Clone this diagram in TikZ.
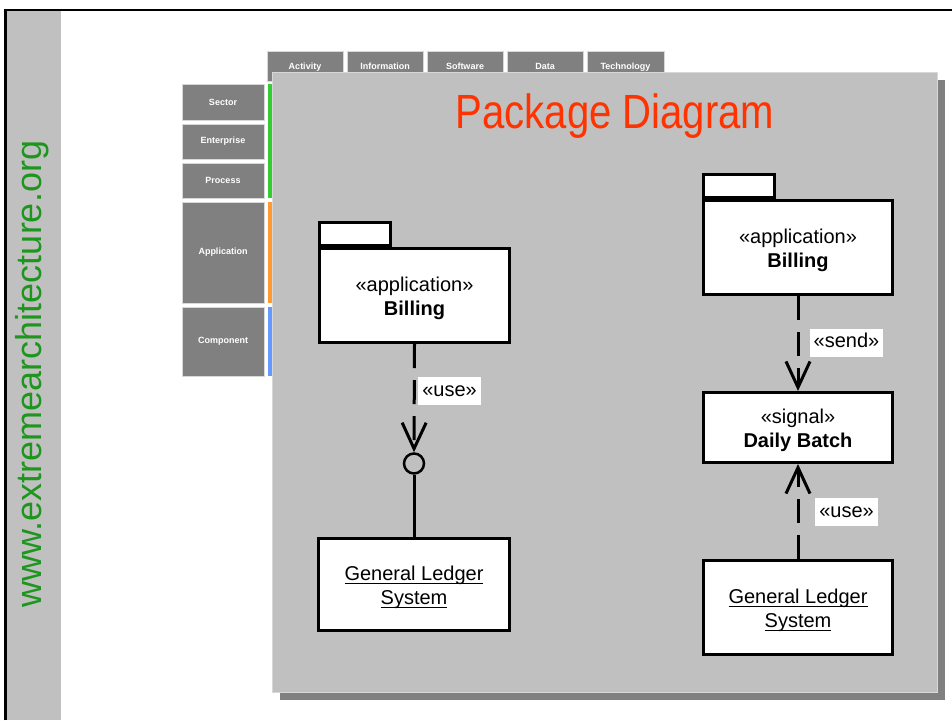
\documentclass[tikz,border=0pt]{standalone}
\usepackage{fontspec}
\setmainfont{Liberation Sans}
\usepackage{graphicx}
\usetikzlibrary{arrows.meta}
\definecolor{panelgray}{HTML}{C0C0C0}
\definecolor{tabgray}{HTML}{808080}
\definecolor{tabedge}{HTML}{D8D8D8}
\definecolor{barGreen}{HTML}{33CC33}
\definecolor{barOrange}{HTML}{FF9933}
\definecolor{barBlue}{HTML}{6699FF}
\definecolor{titleRed}{HTML}{FF3300}
\definecolor{urlGreen}{HTML}{1E961E}
\newsavebox\ulbox
\newcommand{\ulx}[1]{\sbox\ulbox{#1}\rlap{\rule[-3pt]{\wd\ulbox}{1.4pt}}\usebox\ulbox}
\newcommand{\upstrut}{\rule{0pt}{21pt}}
\tikzset{
  tabbox/.style={rectangle, fill=tabgray, draw=tabedge, line width=0.6pt, inner sep=0pt,
    text=white, font=\fontsize{9}{10}\selectfont\bfseries},
  tablabel/.style={anchor=base, text=white, font=\fontsize{9}{10}\selectfont\bfseries, inner sep=0pt},
  pkgbox/.style={rectangle, draw=black, line width=3pt, fill=white, align=center,
    inner sep=0pt, font=\fontsize{20}{24}\selectfont},
  pkgtab/.style={rectangle, draw=black, line width=3pt, fill=white, inner sep=0pt,
    minimum width=71pt, minimum height=23pt, anchor=south west},
  deplabel/.style={fill=white, inner xsep=4pt, inner ysep=0pt, text height=15pt, text depth=5pt,
    minimum height=28pt, font=\fontsize{20}{24}\selectfont},
  dep/.style={line width=3pt, dash pattern=on 24pt off 12pt,
    -{Straight Barb[length=26pt,width=24pt]}},
  solidcon/.style={line width=3pt}
}
\begin{document}
\begin{tikzpicture}[x=1pt,y=-1pt]
\useasboundingbox (0,0) rectangle (952,720);
\fill[white] (0,0) rectangle (952,720);
% frame and left strip
\fill[panelgray] (6,10) rectangle (61,720);
\draw[line width=2.2pt] (5.5,720) -- (5.5,10) -- (952,10);
\node[rotate=90, anchor=base, text=urlGreen, font=\fontsize{36}{40}\selectfont] (url) at (41,374) {www.extremearchitecture.org};
% top tabs
\node[tabbox, minimum width=76pt, minimum height=30pt, anchor=north west] (tAct) at (267,51) {};
\node[tabbox, minimum width=76pt, minimum height=30pt, anchor=north west] (tInf) at (347,51) {};
\node[tabbox, minimum width=76pt, minimum height=30pt, anchor=north west] (tSof) at (427,51) {};
\node[tabbox, minimum width=76pt, minimum height=30pt, anchor=north west] (tDat) at (507,51) {};
\node[tabbox, minimum width=77pt, minimum height=30pt, anchor=north west] (tTec) at (587,51) {};
\node[tablabel] (lAct) at (305,69.5) {Activity};
\node[tablabel] (lInf) at (385,69.5) {Information};
\node[tablabel] (lSof) at (465,69.5) {Software};
\node[tablabel] (lDat) at (545,69.5) {Data};
\node[tablabel] (lTec) at (625.5,69.5) {Technology};
% left tabs
\node[tabbox, minimum width=82pt, minimum height=36pt] (tSec) at (223,102) {Sector};
\node[tabbox, minimum width=82pt, minimum height=35pt] (tEnt) at (223,141.5) {Enterprise};
\node[tabbox, minimum width=82pt, minimum height=35pt] (tPro) at (223,180.5) {Process};
\node[tabbox, minimum width=82pt, minimum height=101pt] (tApp) at (223,252.5) {Application};
\node[tabbox, minimum width=82pt, minimum height=69pt] (tCom) at (223,341.5) {Component};
% colour bars
\fill[barGreen] (268,84) rectangle (272,198);
\fill[barOrange] (268,202) rectangle (272,303);
\fill[barBlue] (268,307) rectangle (272,376);
% panel with shadow
\fill[tabgray] (280,80) rectangle (945,700);
\filldraw[fill=panelgray, draw=tabedge, line width=1pt] (272,72) rectangle (937,692);
% title
\node[anchor=base, text=titleRed, font=\fontsize{48}{52}\selectfont] (title) at (615,128) {\scalebox{0.835}[1]{Package Diagram}};
% left packages
\node[pkgbox, minimum width=190pt, minimum height=94pt] (lb) at (414.5,295.5) {\upstrut«application»\\\textbf{Billing}};
\node[pkgtab] (lbtab) at (lb.north west) {};
\node[pkgbox, minimum width=191pt, minimum height=92pt] (lg) at (414,584.5) {\upstrut\ulx{General Ledger}\\\ulx{System}};
\node[circle, draw=black, line width=2.5pt, minimum size=20pt, inner sep=0pt] (circ) at (414,463.5) {};
% right packages
\node[pkgbox, minimum width=189pt, minimum height=94pt] (rb) at (798,247.5) {\upstrut«application»\\\textbf{Billing}};
\node[pkgtab] (rbtab) at (rb.north west) {};
\node[pkgbox, minimum width=189pt, minimum height=70pt] (db) at (798,427.5) {\upstrut«signal»\\\textbf{Daily Batch}};
\node[pkgbox, minimum width=189pt, minimum height=94pt] (rg) at (798,607.5) {\upstrut\ulx{General Ledger}\\\ulx{System}};
% connectors
\draw[dep] (lb.south) -- (circ.north);
\draw[solidcon] (circ.south) -- (lg.north);
\draw[dep] (rb.south) -- (db.north);
\draw[dep] (rg.north) -- (db.south);
% labels
\node[deplabel] (luse) at (449.5,391) {«use»};
\node[deplabel] (rsend) at (846.5,342.5) {«send»};
\node[deplabel] (ruse) at (846.5,512) {«use»};
\end{tikzpicture}
\end{document}
